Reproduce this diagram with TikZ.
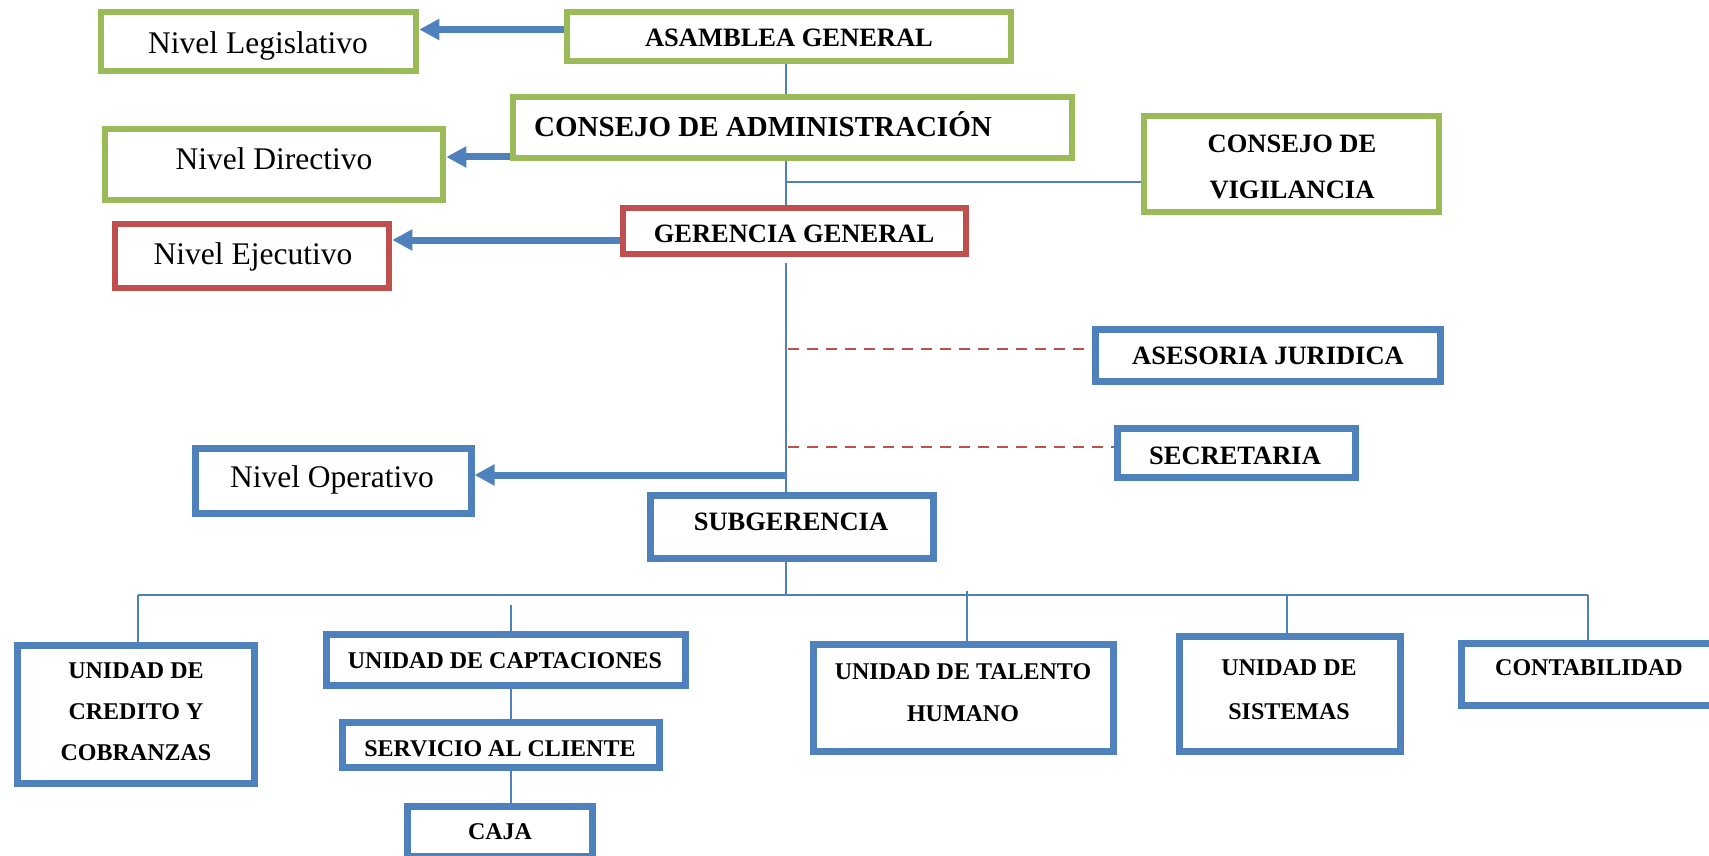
\documentclass[tikz,border=0pt]{standalone}
\usepackage{fontspec}
\setmainfont{Liberation Serif}
\usetikzlibrary{arrows.meta}
\definecolor{cgreen}{HTML}{9BBB59}
\definecolor{cred}{HTML}{C0504D}
\definecolor{cblue}{HTML}{4F81BD}
\begin{document}
\begin{tikzpicture}[x=1pt,y=-1pt,
  gbox/.style={draw=cgreen,line width=6.5pt,inner sep=0pt,rectangle},
  rbox/.style={draw=cred,line width=6.5pt,inner sep=0pt,rectangle},
  bbox/.style={draw=cblue,line width=7pt,inner sep=0pt,rectangle},
  lvl/.style={font=\fontsize{31.5}{36}\selectfont,inner sep=0pt},
  tb/.style={font=\fontsize{26.5}{46}\selectfont\bfseries,inner sep=0pt,align=center},
  tbig/.style={font=\fontsize{29}{34}\selectfont\bfseries,inner sep=0pt},
  ts/.style={font=\fontsize{24}{41}\selectfont\bfseries,inner sep=0pt,align=center},
  conn/.style={draw=cblue,line width=2pt},
  dashline/.style={draw=cred,line width=2.2pt,dash pattern=on 11pt off 8pt},
  arr/.style={draw=cblue,line width=7pt,-{Triangle[length=20pt,width=20pt]}}
]
\useasboundingbox (0,0) rectangle (1709,856);
% boxes
\node[gbox,minimum width=315pt,minimum height=59pt] (leg) at (258.5,41.5) {};
\node[lvl] (tleg) at (258,46) {Nivel Legislativo};
\node[gbox,minimum width=444pt,minimum height=49pt] (asam) at (789,36.5) {};
\node[tb] (tasam) at (789,38) {ASAMBLEA GENERAL};
\node[gbox,minimum width=559pt,minimum height=61pt] (cadm) at (792.5,127.5) {};
\node[tbig,anchor=west] (tcadm) at (534,124) {CONSEJO DE ADMINISTRACIÓN};
\node[gbox,minimum width=338pt,minimum height=71pt] (dir) at (274,164.5) {};
\node[lvl] (tdir) at (274,159) {Nivel Directivo};
\node[gbox,minimum width=295pt,minimum height=96pt] (vig) at (1291.5,164) {};
\node[tb] (tvig) at (1292,167) {CONSEJO DE\\VIGILANCIA};
\node[rbox,minimum width=343pt,minimum height=46pt] (ger) at (794.5,231) {};
\node[tb] (tger) at (794,234) {GERENCIA GENERAL};
\node[rbox,minimum width=274pt,minimum height=64pt] (eje) at (252,256) {};
\node[lvl] (teje) at (253,257) {Nivel Ejecutivo};
\node[bbox,minimum width=345pt,minimum height=52pt] (ases) at (1267.5,355) {};
\node[tb] (tases) at (1268,356) {ASESORIA JURIDICA};
\node[bbox,minimum width=238pt,minimum height=49pt] (sec) at (1236,452.5) {};
\node[tb] (tsec) at (1235,456) {SECRETARIA};
\node[bbox,minimum width=276pt,minimum height=65pt] (oper) at (333,480.5) {};
\node[lvl] (toper) at (332,480) {Nivel Operativo};
\node[bbox,minimum width=283pt,minimum height=63pt] (sub) at (791.5,526.5) {};
\node[tb] (tsub) at (791,522) {SUBGERENCIA};
\node[bbox,minimum width=237pt,minimum height=138pt] (cred) at (135.5,714) {};
\node[ts] (tcred) at (136,712) {UNIDAD DE\\CREDITO Y\\COBRANZAS};
\node[bbox,minimum width=359pt,minimum height=51pt] (capt) at (505.5,659.5) {};
\node[ts] (tcapt) at (505,661) {UNIDAD DE CAPTACIONES};
\node[bbox,minimum width=317pt,minimum height=45pt] (serv) at (500.5,744.5) {};
\node[ts] (tserv) at (500,749) {SERVICIO AL CLIENTE};
\node[bbox,minimum width=185pt,minimum height=50pt] (caja) at (499.5,831) {};
\node[ts] (tcaja) at (500,832) {CAJA};
\node[bbox,minimum width=300pt,minimum height=107pt] (tal) at (963,697.5) {};
\node[ts,font=\fontsize{24}{42}\selectfont\bfseries] (ttal) at (963,693) {UNIDAD DE TALENTO\\HUMANO};
\node[bbox,minimum width=221pt,minimum height=115pt] (sis) at (1289.5,693.5) {};
\node[ts,font=\fontsize{24}{44}\selectfont\bfseries] (tsis) at (1289,690) {UNIDAD DE\\SISTEMAS};
\node[bbox,minimum width=256pt,minimum height=62pt] (cont) at (1589,674) {};
\node[ts] (tcont) at (1589,668) {CONTABILIDAD};
% helper coordinates
\coordinate (sp) at (786,0);
\coordinate (ya) at (0,29.5);
\coordinate (yd) at (0,157);
\coordinate (ye) at (0,240);
\coordinate (yv) at (0,182);
\coordinate (yj) at (0,349);
\coordinate (ys) at (0,447);
\coordinate (yo) at (0,475);
\coordinate (yb) at (0,595);
\coordinate (xl) at (138,0);
\coordinate (xc) at (511,0);
\coordinate (xt) at (967,0);
\coordinate (xs) at (1287,0);
\coordinate (xr) at (1588,0);
% arrows to levels
\draw[arr] (asam.west |- ya) -- (leg.east |- ya);
\draw[arr] (cadm.west |- yd) -- (dir.east |- yd);
\draw[arr] (ger.west |- ye) -- (eje.east |- ye);
\draw[arr] (sp |- yo) -- (oper.east |- yo);
% spine
\draw[conn] (asam.south -| sp) -- (cadm.north -| sp);
\draw[conn] (cadm.south -| sp) -- (ger.north -| sp);
\draw[conn] (sp |- yv) -- (vig.west |- yv);
\draw[conn] ([yshift=-6pt]ger.south -| sp) -- (sub.north -| sp);
\draw[dashline] ([xshift=2pt]sp |- yj) -- (ases.west |- yj);
\draw[dashline] ([xshift=2pt]sp |- ys) -- (sec.west |- ys);
% bus
\draw[conn] (sub.south -| sp) -- (sp |- yb);
\draw[conn] (xl |- yb) -- (xr |- yb);
\draw[conn] (xl |- yb) -- (cred.north -| xl);
\draw[conn] ([yshift=-10pt]xc |- yb) -- (capt.north -| xc);
\draw[conn] (capt.south -| xc) -- (serv.north -| xc);
\draw[conn] (serv.south -| xc) -- (caja.north -| xc);
\draw[conn] ([yshift=4pt]xt |- yb) -- (tal.north -| xt);
\draw[conn] (xs |- yb) -- (sis.north -| xs);
\draw[conn] (xr |- yb) -- (cont.north -| xr);
\end{tikzpicture}
\end{document}
